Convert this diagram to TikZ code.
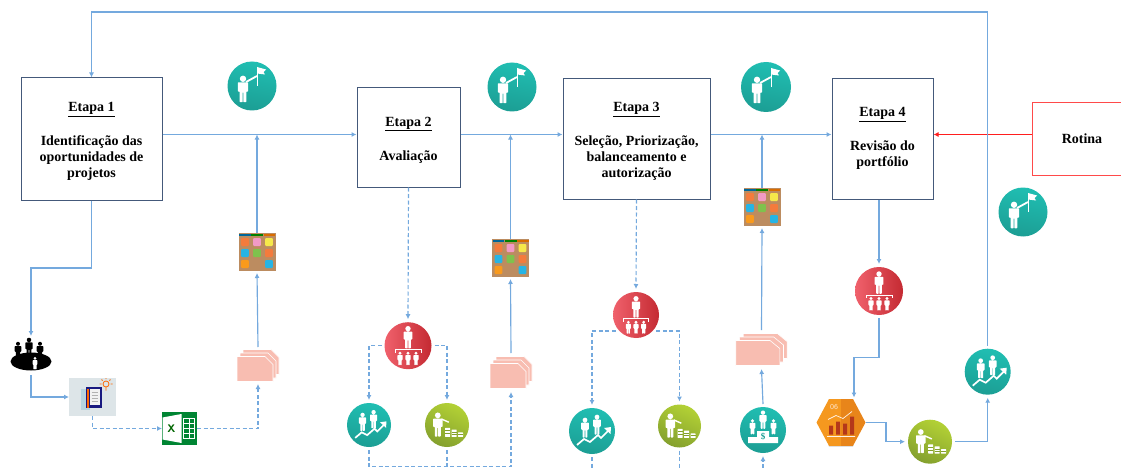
\documentclass[tikz,border=0pt]{standalone}
\usepackage{fontspec}
\setmainfont{Liberation Serif}
\usetikzlibrary{arrows.meta}
\definecolor{linec}{HTML}{74A9DE}
\definecolor{boxc}{HTML}{44597A}
\definecolor{rotc}{HTML}{FF4A4A}
\definecolor{arrowred}{HTML}{FF1E1E}
\definecolor{pinkc}{HTML}{F8BDB1}
\definecolor{corkc}{HTML}{BC8C60}
\newcommand\lifttext{\rule{0pt}{14pt}}
\newcommand\figman[3]{\fill[#1,shift={(#2)},scale=#3] (0,-4.2) circle (1.25)
  (-2.05,-2.8) [rounded corners=.6pt] -- (2.05,-2.8) -- (2.05,.8) -- (1.3,.8) -- (1.3,5) -- (.15,5) -- (.15,1) -- (-.15,1) -- (-.15,5) -- (-1.3,5) -- (-1.3,.8) -- (-2.05,.8) -- cycle;}
\tikzset{
  x=1pt,y=-1pt,
  stepbox/.style={draw=boxc,line width=1pt,fill=white,align=center,inner sep=0pt,font=\bfseries\fontsize{14}{16}\selectfont},
  routinebox/.style={stepbox,draw=rotc},
  flow/.style={draw=linec,line width=1.15pt,-{Latex[length=5pt,width=5pt]}},
  flowdash/.style={flow,dash pattern=on 4pt off 2.5pt},
  disc/.style={circle,inner sep=0pt,outer sep=3pt,minimum size=#1},
  tealdisc/.style={disc=#1,left color=tealL,right color=tealR,shading angle=-10},
  reddisc/.style={disc=#1,left color=redL,right color=redR},
  greendisc/.style={disc=#1,left color=greenL,right color=greenR,shading angle=-25},
  slot/.style={inner sep=0pt,outer sep=0pt,minimum width=#1},
  flagman/.pic={
    \figman{white}{-9,3.5}{2.55}
    \draw[white,line width=1.8pt] (-6,-4) -- (5,-10);
    \draw[white,line width=.8pt] (5,-19) -- (5,0);
    \fill[white] (5,-19) -- (14,-16.5) -- (11.5,-14) -- (13,-11.5) -- (5,-12.5) -- cycle;
  },
  orgchart/.pic={
    \figman{white}{0,-8}{2.15}
    \draw[white,line width=1pt] (-13,7) -- (-13,4) -- (13,4) -- (13,7);
    \figman{white}{-8,13}{1.3}
    \figman{white}{0,13}{1.3}
    \figman{white}{8,13}{1.3}
  },
  growth/.pic={
    \figman{white}{-7,-3}{1.9}
    \figman{white}{5,-6}{1.9}
    \draw[white,line width=1.7pt] (-15,14) -- (-8,8) -- (-2,11) -- (6,4) -- (9,7) -- (17,-1);
    \fill[white] (19,-4) -- (18.5,3) -- (12,-3) -- cycle;
  },
  savings/.pic={
    \figman{white}{-10,0}{2.5}
    \draw[white,line width=1.4pt] (-6,-6.5) -- (2,-3);
    \fill[white,rounded corners=.5pt] (-2,3) rectangle (3.5,13) (5,5) rectangle (10.5,13) (12,8) rectangle (17.5,13);
    \draw[greenR,line width=.4pt] (-2,6) -- (3.5,6) (-2,9) -- (3.5,9) (5,8) -- (10.5,8) (5,10.5) -- (10.5,10.5) (12,10.5) -- (17.5,10.5);
  },
  podium/.pic={
    \figman{white}{-10.5,-3}{1.45}
    \figman{white}{0,-10}{1.75}
    \figman{white}{10.5,-3}{1.45}
    \fill[white] (-15,13) -- (-15,7) -- (-6,7) -- (-6,1) -- (6,1) -- (6,7) -- (15,7) -- (15,13) -- cycle;
    \node[inner sep=0pt,text=tealR,font=\bfseries\fontsize{9}{9}\selectfont] (dollar) at (0,7) {\$};
  },
  cardboard/.pic={
    \fill[corkc] (-18.5,-20) rectangle (18.5,18);
    \fill[teal!80!blue] (-18,-19.5) rectangle (-6.5,-17);
    \fill[green!50!black] (-6,-19.5) rectangle (6,-17);
    \fill[orange!85!black] (6.5,-19.5) rectangle (18,-17);
    \foreach \cx/\cy/\cc in {-12/-11/noteO,0/-11/noteP,12/-11/noteY,-12/0/noteC,0/0/noteG,12/0/noteO,-12/11/noteA,12/11/noteC}
      \fill[\cc,rounded corners=1pt] (\cx-3.8,\cy-4) rectangle (\cx+3.8,\cy+4);
  },
  cardstack/.pic={
    \foreach \ox/\oy in {6/-7,3/-3.5,0/0}
      \filldraw[fill=pinkc,draw=white,line width=.6pt,shift={(\ox,\oy)}] (-21,-9) -- (7,-9) -- (15,-1) -- (15,16) -- (-21,16) -- cycle;
  },
  meeting/.pic={
    \figman{black}{-13,-5}{1.6}
    \figman{black}{-2,-8}{1.8}
    \figman{black}{9,-5}{1.6}
    \fill[black] (0,6) ellipse (20.5 and 9);
    \figman{white}{4,8}{1.2}
  },
  notepad/.pic={
    \fill[cyan!20!gray!25!white] (-23.5,-19) rectangle (23.5,19);
    \fill[gray!55!cyan!45!white] (-12,-8) -- (-3,-8) -- (-3,13) -- (-12,13) -- cycle;
    \fill[blue!50!black!80!gray] (-7,-10) rectangle (9,11);
    \fill[white!90!gray] (-3,-8) rectangle (7,8);
    \fill[orange!80!red] (-6,-8) rectangle (-3.5,11);
    \draw[gray!60,line width=.5pt] (-1,-5) -- (5,-5) (-1,-2) -- (5,-2) (-1,1) -- (5,1) (-1,4) -- (5,4);
    \draw[orange!80!red,line width=.8pt] (13.5,-13) circle (3) (13.5,-10) -- (13.5,-6.5)
      (13.5,-19) -- (13.5,-18) (7,-13) -- (9,-13) (18,-13) -- (20,-13) (9,-17.5) -- (10,-16.5) (18,-17.5) -- (17,-16.5);
  },
  sheetlogo/.pic={
    \fill[green!40!black!80!cyan] (-17.5,-16.5) rectangle (17.5,16.5);
    \fill[white] (-17,-11) -- (2,-14.5) -- (2,14.5) -- (-17,11) -- cycle;
    \draw[white,line width=.7pt] (4,-10) rectangle (15,10) (4,-5) -- (15,-5) (4,0) -- (15,0) (4,5) -- (15,5) (9.5,-10) -- (9.5,10);
    \node[inner sep=0pt,text=green!40!black,font=\bfseries\sffamily\fontsize{11}{11}\selectfont] (xmark) at (-8,0) {X};
  },
  hexchart/.pic={
    \fill[gray!70] (-12,23.8) -- (12,23.8) -- (12.5,23) -- (-12.5,23) -- cycle;
    \fill[hexL] (-24.5,0) -- (-12,-23.5) -- (0,-23.5) -- (0,23.3) -- (-12,23.3) -- cycle;
    \fill[hexR] (24.5,0) -- (12,-23.5) -- (0,-23.5) -- (0,23.3) -- (12,23.3) -- cycle;
    \node[inner sep=0pt,text=white!80!orange,font=\sffamily\fontsize{7.5}{8}\selectfont] (hexnum) at (-7,-15.5) {06};
    \fill[hexbar] (-12,3) rectangle (-8,12) (-5,-1) rectangle (-1,12) (2,1) rectangle (6,12) (9,-6) rectangle (13,12);
    \draw[white!90!orange,line width=.7pt] (-13,-3) -- (-5,-7) -- (2,-4) -- (11,-11) (-14,14) -- (14,14);
  }
}
\definecolor{tealL}{HTML}{20BEB2}
\definecolor{tealR}{HTML}{1C9E94}
\definecolor{redL}{HTML}{F0616C}
\definecolor{redR}{HTML}{C42A32}
\definecolor{greenL}{HTML}{B3D135}
\definecolor{greenR}{HTML}{84A02E}
\definecolor{hexL}{HTML}{F5981F}
\definecolor{hexR}{HTML}{E8851A}
\definecolor{hexbar}{HTML}{B4381A}
\definecolor{noteO}{HTML}{F47B3C}
\definecolor{noteP}{HTML}{F29AC6}
\definecolor{noteY}{HTML}{F6E84A}
\definecolor{noteC}{HTML}{27B4E4}
\definecolor{noteG}{HTML}{7FC24D}
\definecolor{noteA}{HTML}{F99A1C}
\begin{document}
\begin{tikzpicture}
\useasboundingbox (0,0) rectangle (1121,468);
\fill[white] (0,0) rectangle (1121,468);
% routing levels
\coordinate (main) at (0,134.5);
\coordinate (toplevel) at (0,12);
\coordinate (low) at (0,466.5);
\coordinate (bottom) at (0,468);
\coordinate (drop1) at (0,268);
\coordinate (drop2) at (0,357.5);
\coordinate (hexin) at (854,397.5);
\coordinate (hexout) at (886,0);
% step boxes
\node[stepbox,minimum width=141pt,minimum height=122pt] (b1) at (91.5,139) {\lifttext\underline{Etapa 1}\\[18pt]Identificação das\\oportunidades de\\projetos};
\node[stepbox,minimum width=103pt,minimum height=99pt] (b2) at (408.5,137.5) {\lifttext\underline{Etapa 2}\\[18pt]Avaliação};
\node[stepbox,minimum width=147pt,minimum height=120pt] (b3) at (636.5,139) {\lifttext\underline{Etapa 3}\\[18pt]Seleção, Priorização,\\balanceamento e\\autorização};
\node[stepbox,minimum width=101pt,minimum height=120pt] (b4) at (882.5,139) {\lifttext\underline{Etapa 4}\\[18pt]Revisão do\\portfólio\\[-7pt]~};
\node[routinebox,minimum width=100pt,minimum height=72pt] (rot) at (1082,139) {Rotina};
% flag icons
\node[tealdisc=49pt] (f1) at (252,86) {}; \pic at (f1) {flagman};
\node[tealdisc=49pt] (f2) at (512,87) {}; \pic at (f2) {flagman};
\node[tealdisc=50pt] (f3) at (766,87) {}; \pic at (f3) {flagman};
\node[tealdisc=49pt] (f4) at (1023,212) {}; \pic at (f4) {flagman};
% column 1
\node[slot=41pt,minimum height=39pt] (mt) at (31,355.5) {}; \pic at (mt) {meeting};
\node[slot=47pt,minimum height=38pt] (doc) at (92.5,397) {}; \pic at (doc) {notepad};
\node[slot=35pt,minimum height=33pt] (xl) at (179.5,428.5) {}; \pic at (xl) {sheetlogo};
\node[slot=42pt,minimum height=37pt] (st1) at (258,365.5) {}; \pic at (st1) {cardstack};
\node[slot=37pt,minimum height=40pt] (bd1) at (257,253) {}; \pic at (bd1) {cardboard};
% column 2
\node[reddisc=47pt] (r1) at (408,345.7) {}; \pic at (r1) {orgchart};
\node[tealdisc=44pt] (t1) at (369,425) {}; \pic[scale=.92] at (t1) {growth};
\node[greendisc=44pt] (g1) at (447,425) {}; \pic[scale=.92] at (g1) {savings};
\node[slot=42pt,minimum height=39pt] (st2) at (511,372.5) {}; \pic at (st2) {cardstack};
\node[slot=37pt,minimum height=40pt] (bd2) at (510.5,259) {}; \pic at (bd2) {cardboard};
% column 3
\node[reddisc=46pt] (r3) at (636,315) {}; \pic[scale=.96] at (r3) {orgchart};
\node[tealdisc=46pt] (t3) at (592,431) {}; \pic at (t3) {growth};
\node[greendisc=43pt] (g3) at (679.5,426) {}; \pic[scale=.92] at (g3) {savings};
\node[tealdisc=46pt] (p3) at (763,430) {}; \pic at (p3) {podium};
\node[slot=51pt,minimum height=39pt] (st3) at (761.5,349.5) {}; \pic[xscale=1.22] at (st3) {cardstack};
\node[slot=38pt,minimum height=40pt] (bd3) at (762,208) {}; \pic at (bd3) {cardboard};
% column 4
\node[reddisc=48pt] (r4) at (879,291) {}; \pic at (r4) {orgchart};
\node[slot=50pt,minimum height=47pt] (hx) at (841,422.5) {}; \pic at (hx) {hexchart};
\node[greendisc=44pt] (g4) at (930,441.7) {}; \pic[scale=.92] at (g4) {savings};
\node[tealdisc=46pt] (t4) at (987.7,371.7) {}; \pic at (t4) {growth};
% main line
\draw[flow] (b1.east |- main) -- (b2.west |- main);
\draw[flow] (b2.east |- main) -- (b3.west |- main);
\draw[flow] (b3.east |- main) -- (b4.west |- main);
\draw[draw=arrowred,line width=1.1pt,-{Latex[length=5pt,width=5pt]}] (rot.west |- main) -- (b4.east |- main);
\draw[flow] (t4.north) -- (t4.north |- toplevel) -- (b1.north |- toplevel) -- (b1.north);
% etapa 1 branch
\draw[flow] (b1.south) -- (b1.south |- drop1) -- (mt.north |- drop1) -- (mt.north);
\draw[flow] (mt.south) |- (doc.west);
\draw[flowdash] (doc.south) |- (xl.west);
\draw[flowdash] (xl.east) -| (st1.south);
\draw[flow] (st1.north) -- (bd1.south);
\draw[flow] (bd1.north) -- (bd1.north |- main);
% etapa 2 branch
\draw[flowdash] (b2.south) -- (r1.north);
\draw[flowdash] (r1.west) -| (t1.north);
\draw[flowdash] (r1.east) -| (g1.north);
\draw[flowdash] (t1.south) -- (t1.south |- low) -- (st2.south |- low) -- (st2.south);
\draw[flowdash,-] (g1.south) -- (g1.south |- low);
\draw[flow] (st2.north) -- (bd2.south);
\draw[flow] (bd2.north) -- (bd2.north |- main);
% etapa 3 branch
\draw[flowdash] (b3.south) -- (r3.north);
\draw[flowdash] (r3.218) -| (t3.north);
\draw[flowdash] (r3.-38) -| (g3.north);
\draw[flowdash,-] (t3.south) -- (t3.south |- bottom);
\draw[flowdash,-] (g3.south) -- (g3.south |- bottom);
\draw[flowdash] (p3.south |- bottom) -- (p3.south);
\draw[flow] (p3.north) -- (st3.south);
\draw[flow] (st3.north) -- (bd3.south);
\draw[flow] (bd3.north) -- (bd3.north |- main);
% etapa 4 branch
\draw[flow] (r4.north |- b4.south) -- (r4.north);
\draw[flow] (r4.south) -- (r4.south |- drop2) -- (hexin |- drop2) -- (hexin);
\draw[flow] (hx.east) -- (hexout |- hx.east) -- (hexout |- g4.west) -- (g4.west);
\draw[flow] (g4.east) -| (t4.south);
\end{tikzpicture}
\end{document}
